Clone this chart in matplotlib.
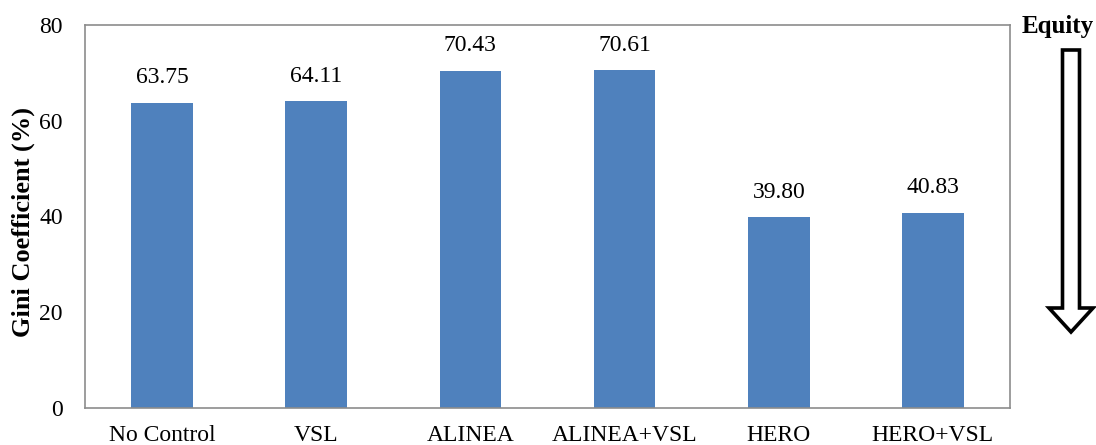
import numpy as np
import matplotlib.pyplot as plt
from matplotlib.patches import FancyArrow

plt.rcParams['font.family'] = ['Liberation Serif', 'DejaVu Serif']

# Gini coefficient per control strategy
strategies = ["No Control", "VSL", "ALINEA", "ALINEA+VSL", "HERO", "HERO+VSL"]
gini = [63.75, 64.11, 70.43, 70.61, 39.80, 40.83]

fig = plt.figure(figsize=(10.96, 4.45), dpi=100)
ax = fig.add_axes([85 / 1096, 37 / 445, 925 / 1096, 383 / 445])

x = np.arange(len(strategies))
bars = ax.bar(x, gini, width=0.4, color="#4F81BD", zorder=2)
for xi, v in zip(x, gini):
    ax.text(xi, v + 3.0, f"{v:.2f}", ha="center", va="bottom", fontsize=17)

ax.set_xlim(-0.5, len(strategies) - 0.5)
ax.set_ylim(0, 80)
ax.set_yticks([0, 20, 40, 60, 80])
ax.set_xticks(x)
ax.set_xticklabels(strategies)
ax.tick_params(length=0, labelsize=17)
ax.tick_params(axis="y", pad=16)
ax.tick_params(axis="x", pad=12)
ax.set_ylabel("Gini Coefficient (%)", fontsize=19, fontweight="bold")
ax.yaxis.set_label_coords(-0.054, 0.485)
for s in ax.spines.values():
    s.set_color("#8c8c8c")
    s.set_linewidth(1.2)

# "Equity" indicator arrow on the right
fig.text(1058 / 1096, 1 - 27 / 445, "Equity", ha="center", va="center",
         fontsize=18, fontweight="bold")
arr_ax = fig.add_axes([0, 0, 1, 1], facecolor="none")
arr_ax.set_xlim(0, 1096)
arr_ax.set_ylim(445, 0)
arr_ax.axis("off")
arr_ax.add_patch(FancyArrow(1071, 50, 0, 282, width=17, head_width=44,
                            head_length=24, length_includes_head=True,
                            facecolor="white", edgecolor="black", linewidth=2.6))

fig.savefig("out.png", dpi=100)
